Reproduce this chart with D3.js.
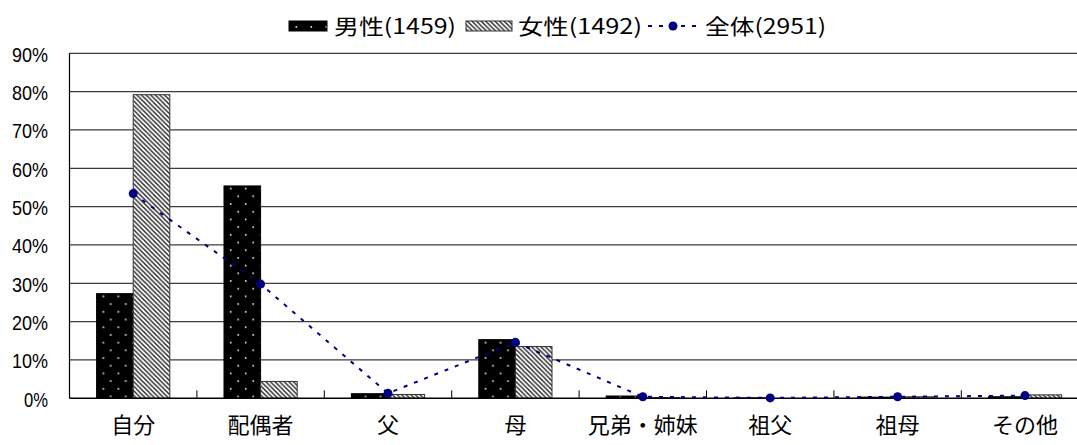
<!DOCTYPE html>
<html>
<head>
<meta charset="utf-8">
<script src="https://cdn.jsdelivr.net/npm/d3@7"></script>
<style>
  html, body { margin: 0; padding: 0; background: #fff; }
  svg { display: block; }
</style>
</head>
<body>
<svg id="chart" width="1077" height="445"></svg>
<script>
const categories = ["自分", "配偶者", "父", "母", "兄弟・姉妹", "祖父", "祖母", "その他"];
const maleValues = [27.3, 55.4, 1.2, 15.3, 0.6, 0.1, 0.3, 0.4];
const femaleValues = [79.2, 4.4, 1.0, 13.5, 0.2, 0.0, 0.4, 0.9];
const totalValues = [53.4, 29.8, 1.3, 14.6, 0.4, 0.1, 0.4, 0.7];
const yTickValues = [0, 10, 20, 30, 40, 50, 60, 70, 80, 90];
const seriesKeys = ["male", "female"];
const legendLabels = ["男性(1459)", "女性(1492)", "全体(2951)"];

const W = 1077, H = 445;
const plotLeft = 69.5, bandStep = 127.4, plotTop = 53.3, plotBottom = 398.3;

const svg = d3.select("#chart");
const defs = svg.append("defs");

// dotted black pattern (male)
const pm = defs.append("pattern").attr("id", "pMale")
  .attr("patternUnits", "userSpaceOnUse").attr("width", 15).attr("height", 15.4);
pm.append("rect").attr("width", 15).attr("height", 15.4).attr("fill", "#000");
pm.append("rect").attr("x", 3).attr("y", 3).attr("width", 1.6).attr("height", 1.6).attr("fill", "#f0f0f0");
pm.append("rect").attr("x", 10.5).attr("y", 10.7).attr("width", 1.6).attr("height", 1.6).attr("fill", "#f0f0f0");

// diagonal hatch pattern (female)
const pf = defs.append("pattern").attr("id", "pFemale")
  .attr("patternUnits", "userSpaceOnUse").attr("width", 4.6).attr("height", 4.6);
pf.append("rect").attr("width", 4.6).attr("height", 4.6).attr("fill", "#fff");
pf.append("path").attr("d", "M-1,-1 L5.6,5.6 M3.6,-1 L5.6,1 M-1,3.6 L1,5.6")
  .attr("stroke", "#222").attr("stroke-width", 1.4);

const x0 = d3.scaleBand().domain(categories).range([plotLeft, plotLeft + bandStep * categories.length]).padding(0);
const x1 = d3.scaleBand().domain(seriesKeys).range([0, x0.bandwidth()]).paddingInner(0).paddingOuter(0.74);
const y = d3.scaleLinear().domain([0, 90]).range([plotBottom, plotTop]);

// gridlines
svg.append("g").selectAll("line").data(yTickValues.filter(d => d > 0)).join("line")
  .attr("x1", plotLeft).attr("x2", W)
  .attr("y1", d => y(d)).attr("y2", d => y(d))
  .attr("stroke", "#3c3c3c").attr("stroke-width", 1.2);

// y labels
svg.append("g").selectAll("text").data(yTickValues).join("text")
  .attr("x", 48).attr("y", d => y(d) + 8.5)
  .attr("text-anchor", "end")
  .attr("font-family", "'Liberation Sans', Arial, sans-serif")
  .attr("font-size", 21)
  .attr("textLength", d => (d + "%").length * 12)
  .attr("lengthAdjust", "spacingAndGlyphs")
  .attr("fill", "#000")
  .text(d => d + "%");

// bars
const data = categories.map((c, i) => ({ cat: c, male: maleValues[i], female: femaleValues[i] }));
const groups = svg.append("g").selectAll("g").data(data).join("g")
  .attr("transform", d => `translate(${x0(d.cat)},0)`);
groups.selectAll("rect").data(d => seriesKeys.map(k => ({ key: k, value: d[k] })).filter(e => e.value > 0)).join("rect")
  .attr("x", d => x1(d.key))
  .attr("width", x1.bandwidth())
  .attr("y", d => y(d.value))
  .attr("height", d => y(0) - y(d.value))
  .attr("fill", d => d.key === "male" ? "url(#pMale)" : "url(#pFemale)")
  .attr("stroke", d => d.key === "male" ? "#000" : "#333")
  .attr("stroke-width", 1);

// axes
svg.append("line").attr("x1", plotLeft).attr("x2", plotLeft).attr("y1", plotTop).attr("y2", plotBottom)
  .attr("stroke", "#000").attr("stroke-width", 1.2);
svg.append("line").attr("x1", plotLeft).attr("x2", W).attr("y1", plotBottom).attr("y2", plotBottom)
  .attr("stroke", "#000").attr("stroke-width", 1.5);
svg.append("g").selectAll("line").data(categories.slice(1)).join("line")
  .attr("x1", d => x0(d)).attr("x2", d => x0(d))
  .attr("y1", plotBottom).attr("y2", plotBottom - 8)
  .attr("stroke", "#000").attr("stroke-width", 1);

// category labels
svg.append("g").selectAll("text").data(categories).join("text")
  .attr("x", d => x0(d) + x0.bandwidth() / 2)
  .attr("y", 433)
  .attr("text-anchor", "middle")
  .attr("font-family", "'Noto Sans CJK JP', sans-serif")
  .attr("font-size", 22)
  .attr("fill", "#000")
  .text(d => d);

// total line
const line = d3.line().x((d, i) => x0(categories[i]) + x0.bandwidth() / 2).y(d => y(d));
svg.append("path").datum(totalValues).attr("d", line)
  .attr("fill", "none").attr("stroke", "#000080").attr("stroke-width", 2)
  .attr("stroke-dasharray", "4,7");
svg.append("g").selectAll("circle").data(totalValues).join("circle")
  .attr("cx", (d, i) => x0(categories[i]) + x0.bandwidth() / 2)
  .attr("cy", d => y(d)).attr("r", 4.5).attr("fill", "#000080");

// legend
const lg = svg.append("g");
const legendFont = "'Noto Sans CJK JP', sans-serif";
lg.append("rect").attr("x", 289).attr("y", 21).attr("width", 38).attr("height", 10)
  .attr("fill", "url(#pMale)").attr("stroke", "#000").attr("stroke-width", 1);
lg.append("rect").attr("x", 466).attr("y", 21).attr("width", 46).attr("height", 10)
  .attr("fill", "url(#pFemale)").attr("stroke", "#333").attr("stroke-width", 1);
lg.append("line").attr("x1", 648).attr("x2", 699).attr("y1", 26).attr("y2", 26)
  .attr("stroke", "#000080").attr("stroke-width", 2).attr("stroke-dasharray", "4,7");
lg.append("circle").attr("cx", 673).attr("cy", 26).attr("r", 4.5).attr("fill", "#000080");
const legendTextX = [334, 518, 705];
const legendTextW = [122, 124, 121];
lg.selectAll("text").data(legendLabels).join("text")
  .attr("x", (d, i) => legendTextX[i]).attr("y", 34)
  .attr("font-family", legendFont).attr("font-size", 21)
  .attr("textLength", (d, i) => legendTextW[i])
  .attr("lengthAdjust", "spacingAndGlyphs")
  .attr("fill", "#000")
  .text(d => d);
</script>
</body>
</html>
